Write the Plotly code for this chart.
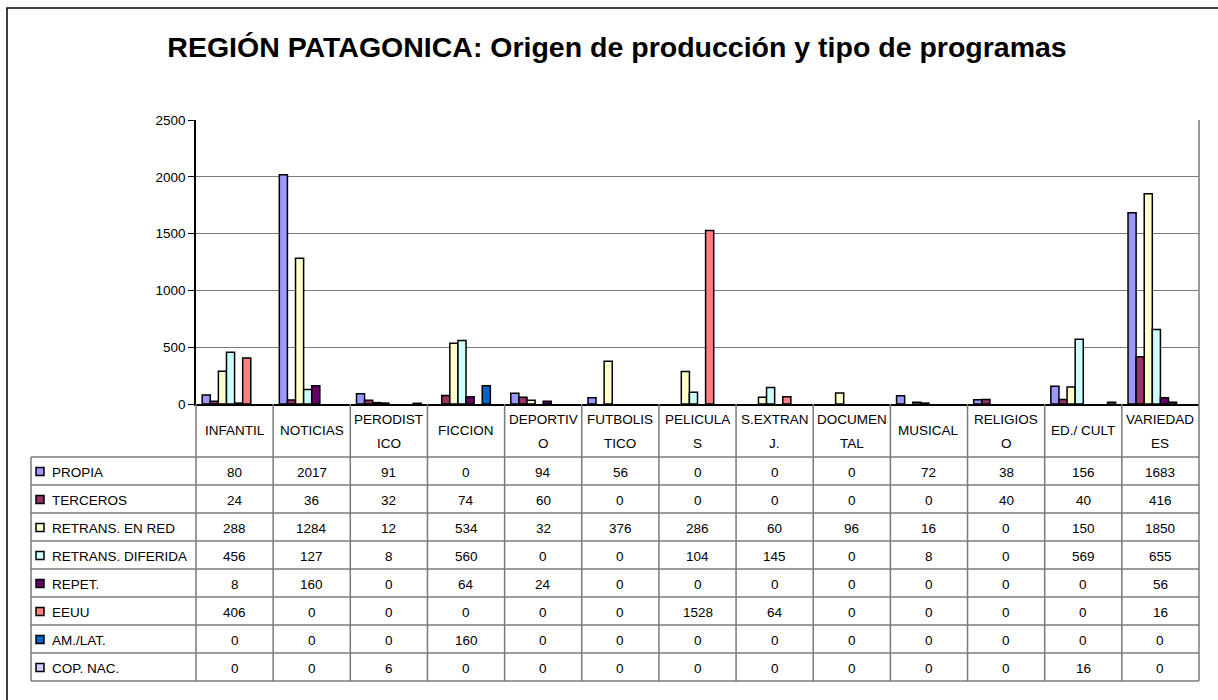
import plotly.graph_objects as go

# Program types (x categories) and the wrapped header text shown in the data table
categories = ["INFANTIL", "NOTICIAS", "PERODISTICO", "FICCION", "DEPORTIVO",
              "FUTBOLISTICO", "PELICULAS", "S.EXTRANJ.", "DOCUMENTAL",
              "MUSICAL", "RELIGIOSO", "ED./ CULT", "VARIEDADES"]
header_labels = ["INFANTIL", "NOTICIAS", "PERODIST<br>ICO", "FICCION", "DEPORTIV<br>O",
                 "FUTBOLIS<br>TICO", "PELICULA<br>S", "S.EXTRAN<br>J.", "DOCUMEN<br>TAL",
                 "MUSICAL", "RELIGIOS<br>O", "ED./ CULT", "VARIEDAD<br>ES"]

# Production origin series
series_names = ["PROPIA", "TERCEROS", "RETRANS. EN RED", "RETRANS. DIFERIDA",
                "REPET.", "EEUU", "AM./LAT.", "COP. NAC."]
propia = [80, 2017, 91, 0, 94, 56, 0, 0, 0, 72, 38, 156, 1683]
terceros = [24, 36, 32, 74, 60, 0, 0, 0, 0, 0, 40, 40, 416]
retrans_red = [288, 1284, 12, 534, 32, 376, 286, 60, 96, 16, 0, 150, 1850]
retrans_diferida = [456, 127, 8, 560, 0, 0, 104, 145, 0, 8, 0, 569, 655]
repet = [8, 160, 0, 64, 24, 0, 0, 0, 0, 0, 0, 0, 56]
eeuu = [406, 0, 0, 0, 0, 0, 1528, 64, 0, 0, 0, 0, 16]
am_lat = [0, 0, 0, 160, 0, 0, 0, 0, 0, 0, 0, 0, 0]
cop_nac = [0, 0, 6, 0, 0, 0, 0, 0, 0, 0, 0, 16, 0]
series_values = [propia, terceros, retrans_red, retrans_diferida, repet, eeuu, am_lat, cop_nac]

y_ticks = [0, 500, 1000, 1500, 2000, 2500]

colors = ["#9999FF", "#993366", "#FFFFCC", "#CCFFFF", "#660066", "#FF8080", "#0066CC", "#CCCCFF"]

FONT = "Arial, 'Liberation Sans', sans-serif"
W, H = 1218, 700
L, R, T, B = 196, 1199, 120, 404   # plot area in pixels

def px(x):
    return (x - L) / (R - L)

def py(y):
    return (B - y) / (B - T)

fig = go.Figure()
for name, vals, col in zip(series_names, series_values, colors):
    # empty categories get no bar at all
    fig.add_trace(go.Bar(
        x=categories, y=[v if v else None for v in vals], name=name,
        marker=dict(color=col, line=dict(color="black", width=1.5)),
    ))

shapes = []
annotations = []
grid_col = "#7a7a7a"

# Data table geometry
n = len(categories)
header_bottom = 457
row_h = 28
table_left = 31
rows_bottom = header_bottom + row_h * len(series_names)
cell_font = dict(family=FONT, size=13.5, color="black")

# column borders
for i in range(n + 1):
    xb = px(L + i * (R - L) / n)
    y_top = py(T) if i == n else py(B)
    shapes.append(dict(type="line", xref="paper", yref="paper", x0=xb, x1=xb,
                       y0=y_top, y1=py(rows_bottom), line=dict(color=grid_col, width=1.5)))
shapes.append(dict(type="line", xref="paper", yref="paper", x0=px(table_left), x1=px(table_left),
                   y0=py(header_bottom), y1=py(rows_bottom), line=dict(color=grid_col, width=1.5)))
# row borders
for k in range(len(series_names) + 1):
    yy = py(header_bottom + k * row_h)
    shapes.append(dict(type="line", xref="paper", yref="paper", x0=px(table_left), x1=px(R),
                       y0=yy, y1=yy, line=dict(color=grid_col, width=1.5)))

# header labels (wrapped ones get two separately placed lines)
for i, lab in enumerate(header_labels):
    xc = px(L + (i + 0.5) * (R - L) / n)
    parts = lab.split("<br>")
    if len(parts) == 1:
        ys = [(B + header_bottom) / 2]
    else:
        ys = [419, 443]
    for part, yy in zip(parts, ys):
        annotations.append(dict(xref="paper", yref="paper", x=xc, y=py(yy),
                                text=part, showarrow=False, xanchor="center", yanchor="middle",
                                font=cell_font))

# row labels with legend keys, and cell values
for k, (name, vals, col) in enumerate(zip(series_names, series_values, colors)):
    yc = header_bottom + (k + 0.5) * row_h
    shapes.append(dict(type="rect", xref="paper", yref="paper",
                       x0=px(36), x1=px(44), y0=py(yc - 3.5), y1=py(yc + 4.5),
                       fillcolor=col, line=dict(color="black", width=1.5)))
    annotations.append(dict(xref="paper", yref="paper", x=px(50), y=py(yc + 1.5),
                            text=name, showarrow=False, xanchor="left", yanchor="middle",
                            font=cell_font))
    for i, v in enumerate(vals):
        xc = px(L + (i + 0.5) * (R - L) / n)
        annotations.append(dict(xref="paper", yref="paper", x=xc, y=py(yc + 1),
                                text=str(v), showarrow=False, xanchor="center", yanchor="middle",
                                font=cell_font))

# outer chart border
shapes.append(dict(type="rect", xref="paper", yref="paper",
                   x0=px(7), x1=px(1230), y0=py(8), y1=py(712),
                   line=dict(color="black", width=1.5), fillcolor="rgba(0,0,0,0)"))

fig.update_layout(
    width=W, height=H,
    margin=dict(l=L, r=W - R, t=T, b=H - B, pad=0),
    paper_bgcolor="white", plot_bgcolor="white",
    showlegend=False,
    barmode="group", bargap=0.16, bargroupgap=0,
    title=dict(text="<b>REGIÓN PATAGONICA: Origen de producción y tipo de programas</b>",
               xref="container", yref="container", x=617 / W, y=1 - 47 / H,
               xanchor="center", yanchor="middle",
               font=dict(family=FONT, size=28.5, color="black")),
    xaxis=dict(showticklabels=False, showgrid=False, showline=True, linecolor="black",
               linewidth=1.5, ticks="", range=[-0.5, n - 0.5]),
    yaxis=dict(range=[0, 2500], tickvals=y_ticks, showgrid=True, gridcolor=grid_col,
               gridwidth=1, showline=True, linecolor="black", linewidth=1.5,
               ticks="outside", ticklen=6, tickcolor="black", zeroline=False,
               tickfont=dict(family=FONT, size=13.5, color="black")),
    shapes=shapes, annotations=annotations,
)

fig.write_html("out.html")
